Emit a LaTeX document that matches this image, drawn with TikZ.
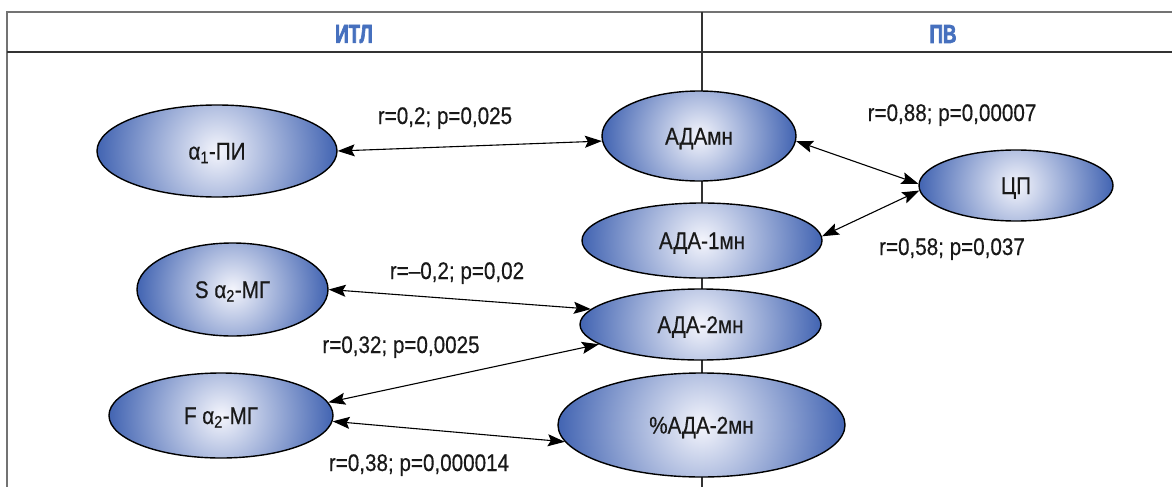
\documentclass[tikz,border=0pt]{standalone}
\usepackage{fontspec}
\setmainfont{Liberation Sans}[FakeStretch=0.86,FakeBold=0.4]
\newfontfamily\headfont{Liberation Sans}[FakeStretch=0.72,FakeBold=2.5]
\usetikzlibrary{arrows.meta,shapes.geometric,calc}
\definecolor{hdblue}{RGB}{70,112,190}
\definecolor{edgeblue}{RGB}{66,100,178}
\definecolor{coreblue}{RGB}{244,245,252}
\definecolor{txtgray}{RGB}{25,25,25}
\tikzset{blob/.style={ellipse, draw=black, line width=1.4pt, inner sep=0pt, path picture={\shade[inner color=coreblue, outer color=edgeblue] (path picture bounding box.center) circle[radius=0.5*\pgfkeysvalueof{/pgf/minimum width}];}, text=txtgray, font=\fontsize{24}{26}\selectfont, text height=17pt, text depth=0pt}, link/.style={{Stealth[length=17pt,width=12pt,inset=3pt]}-{Stealth[length=17pt,width=12pt,inset=3pt]}, line width=1.1pt, black}, corr/.style={anchor=base, inner sep=0pt, text=txtgray, font=\fontsize{24}{26}\selectfont}, head/.style={text=hdblue, inner sep=0pt, font={\headfont\bfseries\fontsize{26}{28}\selectfont}}, thinrule/.style={line width=1.6pt, draw=black!55}, thickrule/.style={line width=2.6pt, draw=black!80}}

\begin{document}
\begin{tikzpicture}[x=1pt,y=-1pt]%[scale=0.75]
\useasboundingbox (0,0) rectangle (1172,487);
\draw[thinrule] (1172,12) -- (7,12) -- (7,487);
\draw[thickrule] (7,52) -- (1172,52);
\draw[thickrule, line width=2pt] (702,12) -- (702,487);
\node[head] (itl) at (354,34) {ИТЛ};
\node[head] (pv) at (943,34) {ПВ};
%ellipses
\node[blob, minimum width=240pt, minimum height=92pt] (pi) at (217,151) {α\textsubscript{1}-ПИ};
\node[blob, minimum width=194pt, minimum height=90pt] (adamn) at (699,136) {АДАмн};
\node[blob, minimum width=194pt, minimum height=71pt] (cp) at (1016,185.5) {ЦП};
\node[blob, minimum width=240pt, minimum height=75pt] (ada1) at (702,240.5) {АДА-1мн};
\node[blob, minimum width=241pt, minimum height=71pt] (ada2) at (700.5,324.5) {АДА-2мн};
\node[blob, minimum width=287pt, minimum height=104pt] (pada) at (701.5,425) {\%АДА-2мн};
\node[blob, minimum width=191pt, minimum height=93pt] (smg) at (232.5,289.5) {S α\textsubscript{2}-МГ};
\node[blob, minimum width=224pt, minimum height=85pt] (fmg) at (221,415.5) {F α\textsubscript{2}-МГ};
%labels
\node[corr] (r1) at (445,124) {r=0,2; p=0,025};
\node[corr] (r2) at (952,121) {r=0,88; p=0,00007};
\node[corr] (r3) at (952,255) {r=0,58; p=0,037};
\node[corr] (r4) at (457,279) {r=–0,2; p=0,02};
\node[corr] (r5) at (401,353) {r=0,32; p=0,0025};
\node[corr] (r6) at (419,471) {r=0,38; p=0,000014};
%links
\draw[link] (pi.east) -- (adamn.183);
\draw[link] (adamn.357) -- (cp.179);
\draw[link] (cp.183) -- (ada1.2);
\draw[link] (smg.east) -- (ada2.172);
\draw[link] (fmg.7) -- (ada2.191);
\draw[link] (fmg.357) -- (pada.187);
\end{tikzpicture}
\end{document}
